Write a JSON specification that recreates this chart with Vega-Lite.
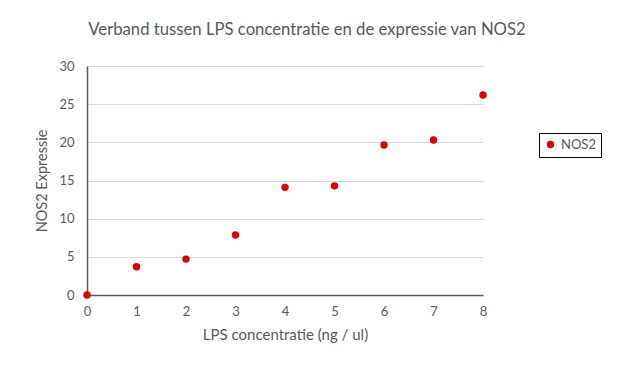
{
  "$schema": "https://vega.github.io/schema/vega-lite/v6.json",
  "autosize": "none",
  "width": 396,
  "height": 229,
  "padding": {"left": 87, "top": 66, "right": 140, "bottom": 85},
  "background": "white",
  "title": {
    "text": "Verband tussen LPS concentratie en de expressie van NOS2",
    "font": "Lato",
    "fontSize": 16.7,
    "fontWeight": "normal",
    "color": "#595959",
    "anchor": "middle",
    "dx": 22,
    "offset": 21
  },
  "config": {
    "view": {"stroke": null},
    "font": "Lato"
  },
  "data": {
    "values": [
      {"lps": 0, "expr": 0, "series": "NOS2"},
      {"lps": 1, "expr": 3.7, "series": "NOS2"},
      {"lps": 2, "expr": 4.7, "series": "NOS2"},
      {"lps": 3, "expr": 7.85, "series": "NOS2"},
      {"lps": 4, "expr": 14.1, "series": "NOS2"},
      {"lps": 5, "expr": 14.3, "series": "NOS2"},
      {"lps": 6, "expr": 19.65, "series": "NOS2"},
      {"lps": 7, "expr": 20.3, "series": "NOS2"},
      {"lps": 8, "expr": 26.2, "series": "NOS2"}
    ]
  },
  "mark": {"type": "point", "filled": true, "shape": "circle", "size": 55, "opacity": 1},
  "encoding": {
    "x": {
      "field": "lps",
      "type": "quantitative",
      "scale": {"domain": [0, 8], "nice": false},
      "axis": {
        "title": "LPS concentratie (ng / ul)",
        "values": [0, 1, 2, 3, 4, 5, 6, 7, 8],
        "grid": false,
        "ticks": false,
        "labelFlush": false,
        "domainColor": "#595959",
        "domainWidth": 1.5,
        "labelColor": "#595959",
        "labelFontSize": 13,
        "labelPadding": 10,
        "titleColor": "#595959",
        "titleFontSize": 15,
        "titleFontWeight": "normal",
        "titlePadding": 9
      }
    },
    "y": {
      "field": "expr",
      "type": "quantitative",
      "scale": {"domain": [0, 30], "nice": false},
      "axis": {
        "title": "NOS2 Expressie",
        "values": [0, 5, 10, 15, 20, 25, 30],
        "grid": true,
        "gridColor": "#d9d9d9",
        "ticks": false,
        "labelFlush": false,
        "domainColor": "#595959",
        "domainWidth": 1.5,
        "labelColor": "#595959",
        "labelFontSize": 13,
        "labelPadding": 13,
        "titleColor": "#595959",
        "titleFontSize": 14.5,
        "titleFontWeight": "normal",
        "titlePadding": 9
      }
    },
    "color": {
      "field": "series",
      "type": "nominal",
      "scale": {"range": ["#e00000"]},
      "legend": {
        "title": null,
        "orient": "none",
        "legendX": 452,
        "legendY": 67,
        "strokeColor": "#000000",
        "padding": 5,
        "labelColor": "#595959",
        "labelFontSize": 13,
        "symbolSize": 55,
        "symbolType": "circle",
        "symbolOpacity": 1
      }
    }
  }
}
